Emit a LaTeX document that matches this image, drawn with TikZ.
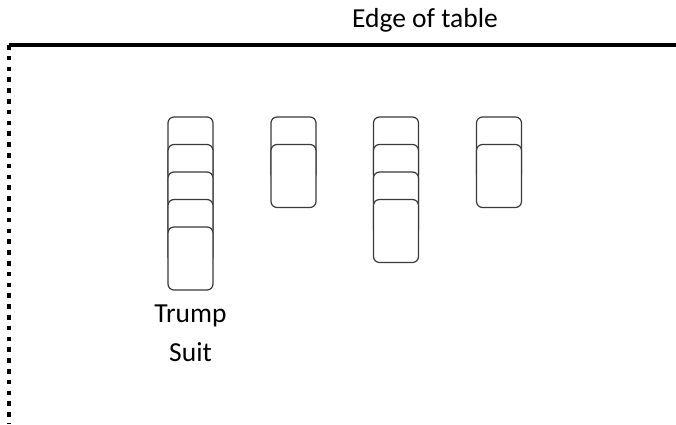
\documentclass[tikz,border=0pt]{standalone}
\usepackage{fontspec}
\setmainfont{Carlito}
\usepackage{tikz}
\usetikzlibrary{positioning}
\definecolor{tinta}{HTML}{000000}
\definecolor{borde}{HTML}{3A3A3A}
\tikzset{
  carta/.style={rectangle,rounded corners=6pt,draw=borde,fill=white,line width=1.2pt,minimum width=45pt,minimum height=63pt,inner sep=0pt},
  borde mesa/.style={draw=tinta,line width=4pt},
  lado mesa/.style={draw=tinta,line width=4.6pt,dash pattern=on 4.6pt off 6.2pt},
  rotulo/.style={font=\fontsize{27.5}{39}\selectfont,text=tinta,align=center,inner sep=0pt},
}

\begin{document}
\begin{tikzpicture}[x=1pt,y=1pt]
\useasboundingbox (0,0) rectangle (676,-424);
\coordinate (m1) at (9,-45);
\coordinate (m2) at (676,-45);
\coordinate (m3) at (9,-424);
\draw[borde mesa] (m1) -- (m2);
\draw[lado mesa] (m1) -- (m3);
\node[rotulo] (titulo) at (425,-20) {Edge of table};
% montones de cartas
\foreach \col/\xc/\n in {1/190.5/5, 2/293.5/2, 3/396/4, 4/499/2}{
  \foreach \k in {1,...,\n}{
    \node[carta] (c\col-\k) at (\xc,{-148.5-27.5*(\k-1)}) {};
  }
}
\node[rotulo,below=14pt of c1-5] (triunfo) {Trump\\Suit};
\end{tikzpicture}
\end{document}
